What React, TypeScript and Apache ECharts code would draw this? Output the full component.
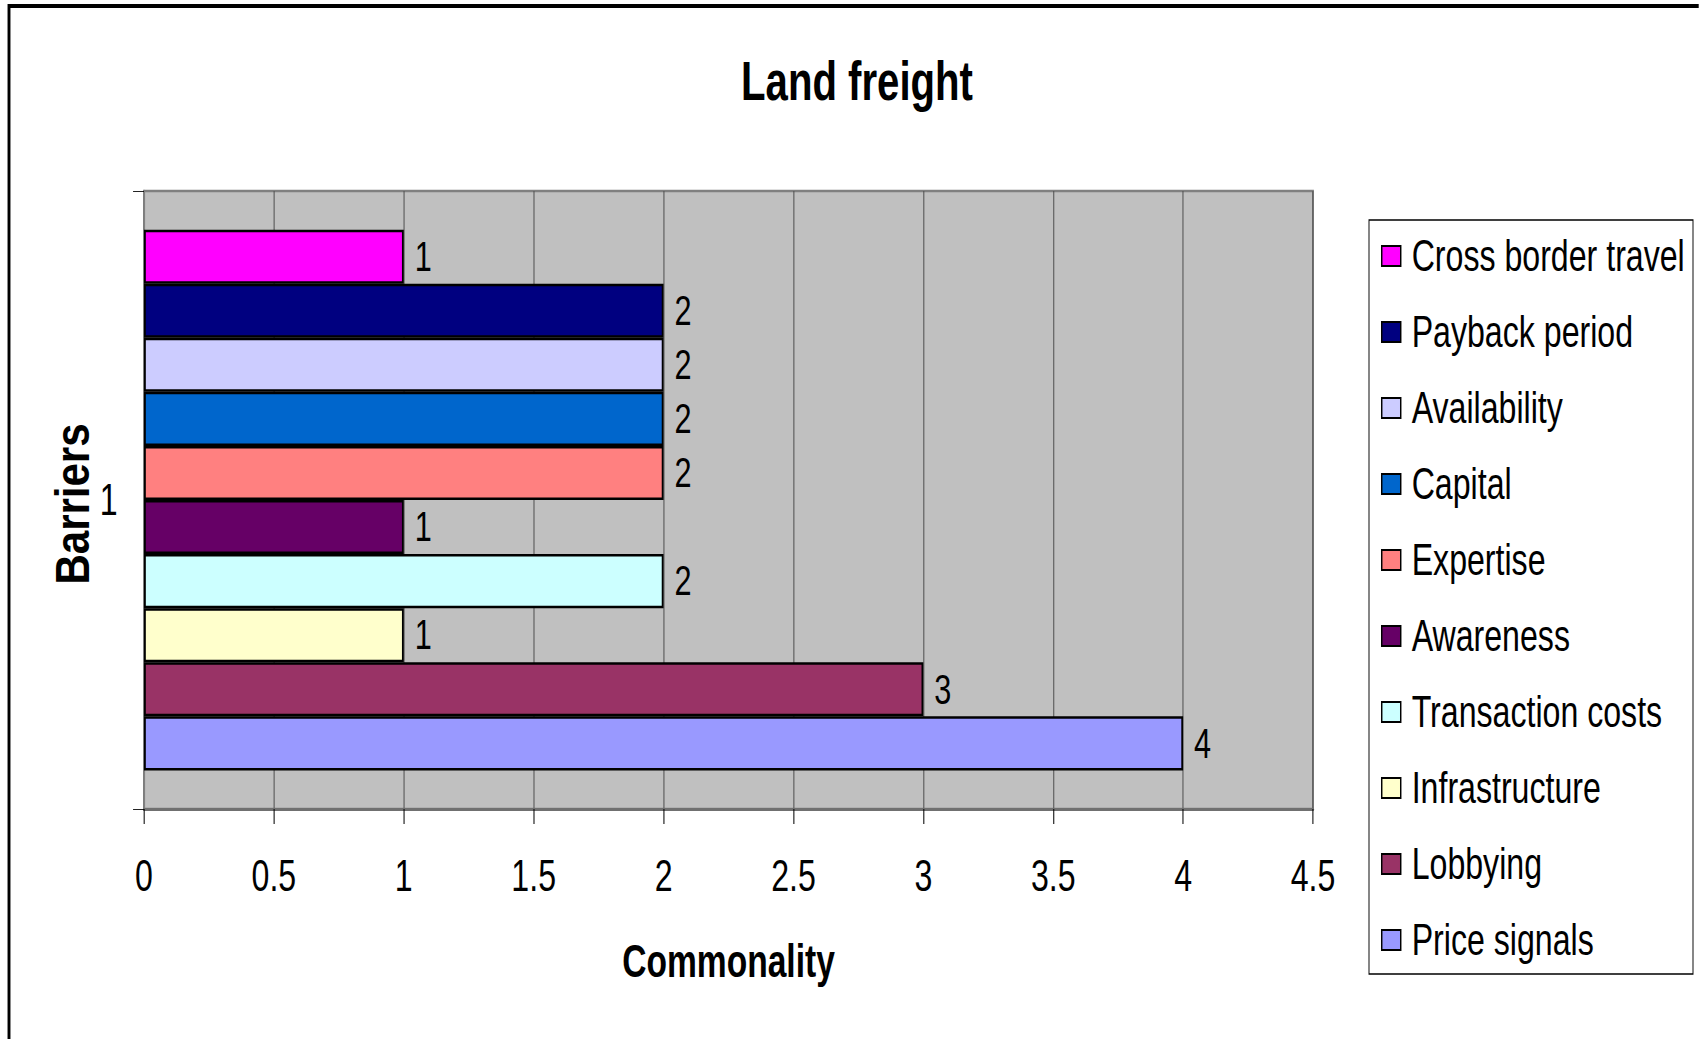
import React, { useEffect, useRef } from "react";
import * as echarts from "echarts";

// ---- data ----
const categories = ["1"];
const seriesNames = [
  "Cross border travel",
  "Payback period",
  "Availability",
  "Capital",
  "Expertise",
  "Awareness",
  "Transaction costs",
  "Infrastructure",
  "Lobbying",
  "Price signals",
];
const values = [1, 2, 2, 2, 2, 1, 2, 1, 3, 4];
const colors = [
  "#ff00ff",
  "#000080",
  "#ccccff",
  "#0066cc",
  "#ff8080",
  "#660066",
  "#ccffff",
  "#ffffcc",
  "#993366",
  "#9999ff",
];
const xMin = 0;
const xMax = 4.5;
const xInterval = 0.5;
const titleText = "Land freight";
const xAxisName = "Commonality";
const yAxisName = "Barriers";

// ---- layout helpers (page is horizontally condensed) ----
const S = 0.73;
const W = 1699;
const H = 1039;
const IW = W / S;
const px = (x: number) => x / S;
const FONT = "'Liberation Sans', Arial, Helvetica, sans-serif";

export default function App() {
  const ref = useRef<HTMLDivElement>(null);

  useEffect(() => {
    if (!ref.current) return;
    const chart = echarts.init(ref.current, undefined, { renderer: "svg" });

    const gridLeft = px(144);
    const gridRight = px(1313);
    const gridTop = 191;
    const gridBottom = 809;

    const option: any = {
      animation: false,
      backgroundColor: "#ffffff",
      title: {
        text: titleText,
        left: px(857),
        textAlign: "center",
        top: 53,
        padding: 0,
        textStyle: {
          fontFamily: FONT,
          fontSize: 55,
          fontWeight: "bold",
          color: "#000",
        },
      },
      legend: {
        orient: "vertical",
        left: px(1381),
        top: 231,
        padding: 0,
        icon: "rect",
        itemWidth: px(19),
        itemHeight: 20,
        itemGap: 26,
        data: seriesNames,
        itemStyle: { borderColor: "#000", borderWidth: 2 },
        textStyle: {
          fontFamily: FONT,
          fontSize: 44,
          lineHeight: 50,
          color: "#000",
          padding: [0, 0, 0, 10],
        },
      },
      grid: {
        left: gridLeft,
        top: gridTop,
        width: gridRight - gridLeft,
        height: gridBottom - gridTop,
        show: true,
        backgroundColor: "#c0c0c0",
        borderColor: "#808080",
        borderWidth: 2.5,
        containLabel: false,
      },
      xAxis: {
        type: "value",
        min: xMin,
        max: xMax,
        interval: xInterval,
        name: xAxisName,
        nameLocation: "middle",
        nameGap: 130,
        nameTextStyle: {
          fontFamily: FONT,
          fontSize: 46,
          fontWeight: "bold",
          color: "#000",
        },
        axisLine: { show: true, lineStyle: { color: "#707070", width: 3 } },
        axisTick: {
          show: true,
          inside: false,
          length: 15,
          lineStyle: { color: "#000", width: 1.4 },
        },
        axisLabel: {
          fontFamily: FONT,
          fontSize: 44,
          color: "#000",
          margin: 45,
        },
        splitLine: { show: true, lineStyle: { color: "#505050", width: 1.4 } },
      },
      yAxis: {
        type: "category",
        data: categories,
        axisLine: { show: true, lineStyle: { color: "#808080", width: 2.5 } },
        axisTick: {
          show: true,
          inside: false,
          length: 15,
          lineStyle: { color: "#000", width: 1 },
        },
        axisLabel: {
          fontFamily: FONT,
          fontSize: 44,
          color: "#000",
          margin: 36,
        },
        splitLine: { show: false },
      },
      series: seriesNames.map((name, i) => ({
        type: "bar",
        name,
        data: [values[i]],
        barGap: "0%",
        barCategoryGap: "12.5%",
        itemStyle: {
          color: colors[i],
          borderColor: "#000",
          borderWidth: 2.5,
        },
        label: {
          show: true,
          position: "right",
          distance: 15,
          fontFamily: FONT,
          fontSize: 42,
          color: "#000",
        },
      })),
      graphic: [
        {
          type: "rect",
          z: -10,
          silent: true,
          shape: { x: px(9), y: 6, width: IW + 50, height: H + 50 },
          style: { fill: "none", stroke: "#000", lineWidth: 4 },
        },
        {
          type: "rect",
          z: -5,
          silent: true,
          shape: {
            x: px(1369),
            y: 220,
            width: px(1693) - px(1369),
            height: 974 - 220,
          },
          style: { fill: "#fff", stroke: "#000", lineWidth: 1.3 },
        },
        {
          type: "text",
          x: px(72),
          y: 504,
          rotation: Math.PI / 2,
          scaleX: 1,
          scaleY: 1.57,
          style: {
            text: yAxisName,
            fontFamily: FONT,
            fontSize: 42,
            fontWeight: "bold",
            fill: "#000",
            align: "center",
            verticalAlign: "middle",
          },
        },
      ],
    };

    chart.setOption(option);
    return () => {
      chart.dispose();
    };
  }, []);

  return (
    <div
      style={{
        position: "absolute",
        left: 0,
        top: 0,
        width: W,
        height: H,
        overflow: "hidden",
        background: "#fff",
      }}
    >
      <div
        ref={ref}
        style={{
          width: IW,
          height: H,
          transform: `scaleX(${S})`,
          transformOrigin: "0 0",
        }}
      />
    </div>
  );
}
